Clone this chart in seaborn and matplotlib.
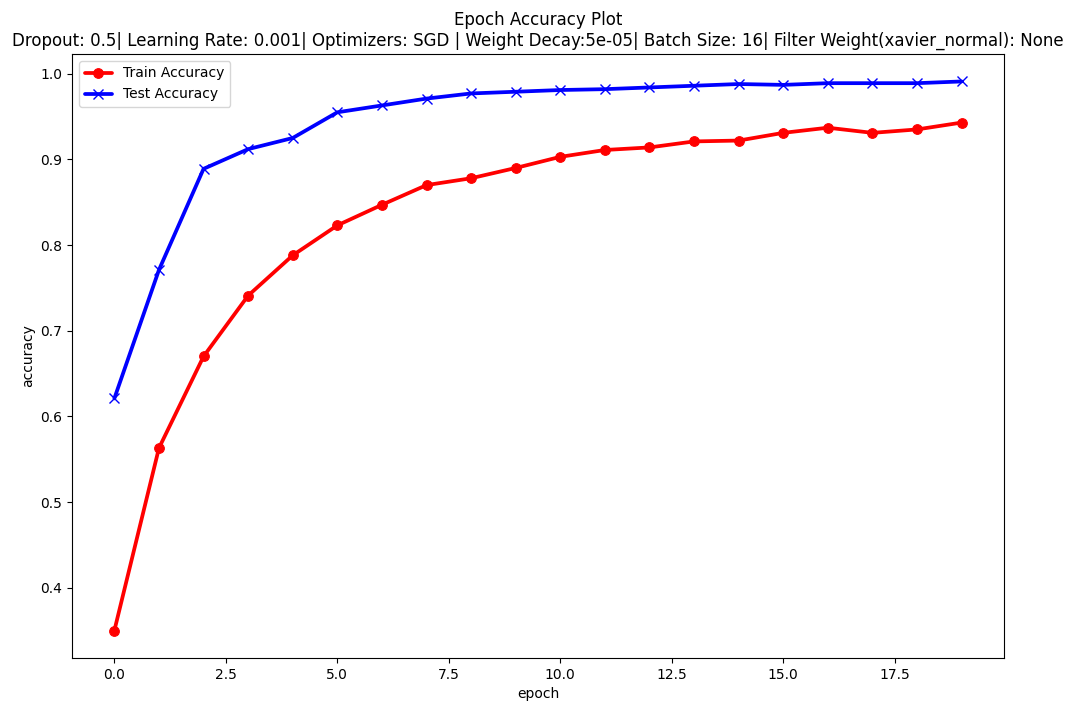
import matplotlib
matplotlib.use("Agg")
import matplotlib.pyplot as plt
import seaborn as sns
import pandas as pd

# accuracy per epoch
epochs = list(range(20))
train_acc = [0.350, 0.563, 0.670, 0.741, 0.788, 0.823, 0.847, 0.870, 0.878, 0.890,
             0.903, 0.911, 0.914, 0.921, 0.922, 0.931, 0.937, 0.931, 0.935, 0.943]
test_acc = [0.621, 0.771, 0.889, 0.912, 0.925, 0.955, 0.963, 0.971, 0.977, 0.979,
            0.981, 0.982, 0.984, 0.986, 0.988, 0.987, 0.989, 0.989, 0.989, 0.991]

titulo = ("Epoch Accuracy Plot\n"
          "Dropout: 0.5| Learning Rate: 0.001| Optimizers: SGD | Weight Decay:5e-05| "
          "Batch Size: 16| Filter Weight(xavier_normal): None")

df = pd.DataFrame({'epoch': epochs, 'train': train_acc, 'test': test_acc})

sns.set_style("white")
plt.rcParams['font.family'] = ['DejaVu Sans']
plt.rcParams['font.size'] = 10
for k in ['text.color', 'axes.labelcolor', 'xtick.color', 'ytick.color']:
    plt.rcParams[k] = 'black'

fig, ax = plt.subplots(figsize=(10.75, 7.04), dpi=100)
fig.subplots_adjust(left=72 / 1075, right=1004 / 1075, top=1 - 54 / 704, bottom=1 - 658 / 704)

sns.lineplot(data=df, x='epoch', y='train', ax=ax, color='red', marker='o',
             markersize=7, markeredgecolor='red', linewidth=2.7, label='Train Accuracy')
sns.lineplot(data=df, x='epoch', y='test', ax=ax, color='blue', marker='x',
             markersize=7, markeredgecolor='blue', markeredgewidth=1.0, linewidth=2.7,
             label='Test Accuracy')

ax.set_title(titulo, fontsize=12)
ax.set_xlabel('epoch')
ax.set_ylabel('accuracy')
for s in ax.spines.values():
    s.set_color('black')
    s.set_linewidth(0.8)
ax.tick_params(direction='out', length=3.5, width=0.8, left=True, bottom=True)
ax.legend(loc='upper left', frameon=True)

fig.savefig('out.png', dpi=100)
